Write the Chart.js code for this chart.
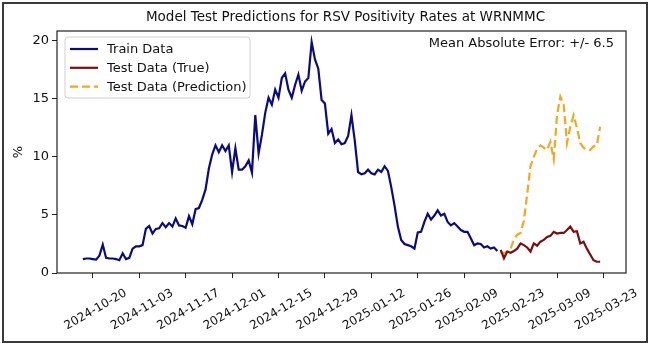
<!DOCTYPE html>
<html>
<head>
<meta charset="utf-8">
<script src="https://cdn.jsdelivr.net/npm/chart.js@4.4.1/dist/chart.umd.min.js"></script>
<style>
  html, body { margin: 0; padding: 0; background: #fff; }
  #wrap { position: relative; width: 650px; height: 347px; }
</style>
</head>
<body>
<div id="wrap"><canvas id="chart" width="650" height="347"></canvas></div>
<script>
// daily values, first train day is 2024-10-17
const trainStart = "2024-10-17";
const trainValues = [
  1.2, 1.25, 1.25, 1.2, 1.15, 1.5, 2.45, 1.3, 1.25, 1.25, 1.2, 1.1, 1.7, 1.2, 1.3,
  2.1, 2.3, 2.3, 2.4, 3.8, 4.05, 3.4, 3.8, 3.85, 4.3, 3.95, 4.3, 4.0, 4.7, 4.1,
  4.05, 3.9, 4.9, 4.2, 5.5, 5.6, 6.3, 7.2, 9.0, 10.2, 11.0, 10.4, 11.0, 10.5, 11.0,
  8.7, 10.75, 8.9, 8.9, 9.2, 9.7, 8.65, 13.6, 10.3, 11.9, 13.8, 15.1, 14.5, 15.8, 15.1,
  16.8, 17.2, 15.8, 15.1, 16.2, 17.1, 15.7, 16.5, 16.8, 19.9, 18.4, 17.6, 14.9, 14.6, 12.0,
  12.4, 11.2, 11.5, 11.1, 11.2, 11.8, 13.6, 11.4, 8.7, 8.5, 8.6, 8.9, 8.6, 8.5, 8.9,
  8.7, 9.2, 8.8, 7.4, 5.8, 4.0, 2.85, 2.5, 2.4, 2.3, 2.1, 3.5, 3.55, 4.4, 5.1,
  4.6, 4.95, 5.4, 4.95, 5.1, 4.4, 4.1, 4.3, 4.0, 3.7, 3.55, 3.55, 3.0, 2.4, 2.55,
  2.5, 2.2, 2.3, 2.1, 2.2, 1.9
];
// test period, first day 2025-02-20
const testStart = "2025-02-20";
const testTrue = [
  2.0, 1.27, 1.85, 1.75, 1.9, 2.1, 2.55, 2.4, 2.2, 1.85, 2.55, 2.35, 2.7, 2.85, 3.1,
  3.2, 3.55, 3.4, 3.45, 3.45, 3.7, 4.0, 3.55, 3.6, 2.55, 2.7, 2.1, 1.6, 1.1, 0.97, 0.97
];
const testPred = [
  1.8, 1.7, 1.85, 2.1, 2.9, 3.3, 3.45, 4.5, 6.8, 9.2, 10.0, 10.7, 11.0, 10.8, 10.6,
  11.3, 9.8, 13.6, 15.2, 14.5, 11.2, 12.6, 13.6, 12.5, 11.2, 10.8, 10.6, 10.6, 10.9, 11.0, 12.6
];
const tickLabels = [
  "2024-10-20", "2024-11-03", "2024-11-17", "2024-12-01", "2024-12-15", "2024-12-29",
  "2025-01-12", "2025-01-26", "2025-02-09", "2025-02-23", "2025-03-09", "2025-03-23"
];
const yTicks = [0, 5, 10, 15, 20];
const maeText = "Mean Absolute Error: +/- 6.5";
const titleText = "Model Test Predictions for RSV Positivity Rates at WRNMMC";

const DAY = 86400000;
const origin = Date.parse(tickLabels[0] + "T00:00:00Z");
const dayOf = s => Math.round((Date.parse(s + "T00:00:00Z") - origin) / DAY);
const toPoints = (start, vals) => vals.map((v, i) => ({ x: dayOf(start) + i, y: v }));
const tickDays = tickLabels.map(dayOf);

const FONT = "'DejaVu Sans', sans-serif";

const overlay = {
  id: "overlay",
  afterDraw(chart) {
    const { ctx, chartArea: a } = chart;
    ctx.save();
    // outer frame
    ctx.strokeStyle = "#3a3a3a";
    ctx.lineWidth = 2;
    ctx.strokeRect(3, 3, 644, 339);
    // axes box
    ctx.strokeStyle = "#222";
    ctx.lineWidth = 1.2;
    ctx.strokeRect(a.left, a.top, a.right - a.left, a.bottom - a.top);
    // title
    ctx.fillStyle = "#111";
    ctx.font = "13.5px " + FONT;
    ctx.textAlign = "center";
    ctx.textBaseline = "middle";
    ctx.fillText(titleText, (a.left + a.right) / 2 + 4, 17);
    // y axis label
    ctx.save();
    ctx.translate(19, (a.top + a.bottom) / 2);
    ctx.rotate(-Math.PI / 2);
    ctx.font = "13px " + FONT;
    ctx.fillText("%", 0, 0);
    ctx.restore();
    // MAE note
    ctx.font = "13px " + FONT;
    ctx.textAlign = "right";
    ctx.fillText(maeText, a.right - 12, 44);
    // legend
    const lx = a.left + 8, ly = a.top + 6, lw = 185, lh = 61;
    ctx.fillStyle = "rgba(255,255,255,0.8)";
    ctx.strokeStyle = "#d0d0d0";
    ctx.lineWidth = 1;
    ctx.beginPath();
    ctx.roundRect(lx, ly, lw, lh, 3);
    ctx.fill();
    ctx.stroke();
    ctx.textAlign = "left";
    chart.data.datasets.forEach((ds, i) => {
      const yy = ly + 12 + i * 18.8;
      ctx.strokeStyle = ds.borderColor;
      ctx.lineWidth = 2.2;
      ctx.setLineDash(ds.borderDash || []);
      ctx.beginPath();
      ctx.moveTo(lx + 5, yy);
      ctx.lineTo(lx + 33, yy);
      ctx.stroke();
      ctx.setLineDash([]);
      ctx.fillStyle = "#111";
      ctx.fillText(ds.label, lx + 42, yy + 1);
    });
    ctx.restore();
  }
};

new Chart(document.getElementById("chart"), {
  type: "line",
  data: {
    datasets: [
      { label: "Train Data", data: toPoints(trainStart, trainValues), borderColor: "#0b0b80", borderWidth: 2.2 },
      { label: "Test Data (True)", data: toPoints(testStart, testTrue), borderColor: "#7a0f0f", borderWidth: 2.2 },
      { label: "Test Data (Prediction)", data: toPoints(testStart, testPred), borderColor: "#f5a623", borderWidth: 2.2, borderDash: [8, 4] }
    ]
  },
  options: {
    responsive: false,
    animation: false,
    layout: { padding: { left: 0, right: 24, top: 31, bottom: 0 } },
    elements: { point: { radius: 0 }, line: { tension: 0, borderCapStyle: "butt" } },
    plugins: { legend: { display: false }, tooltip: { enabled: false }, title: { display: false } },
    scales: {
      x: {
        type: "linear",
        min: -10.8,
        max: 160.8,
        afterBuildTicks: s => { s.ticks = tickDays.map(v => ({ value: v })); },
        afterFit: s => { s.height = 74; },
        border: { display: false },
        grid: { drawOnChartArea: false, drawTicks: true, tickLength: 5, color: "#222" },
        ticks: {
          minRotation: 30, maxRotation: 30, autoSkip: false,
          labelOffset: 33, padding: 8,
          color: "#111", font: { family: FONT, size: 12 },
          callback: v => tickLabels[tickDays.indexOf(v)]
        }
      },
      y: {
        min: 0,
        max: 20.85,
        afterBuildTicks: s => { s.ticks = yTicks.map(v => ({ value: v })); },
        afterFit: s => { s.width = 57; },
        border: { display: false },
        grid: { drawOnChartArea: false, drawTicks: true, tickLength: 5, color: "#222" },
        ticks: { color: "#111", padding: 3, font: { family: FONT, size: 13 } }
      }
    }
  },
  plugins: [overlay]
});
</script>
</body>
</html>
